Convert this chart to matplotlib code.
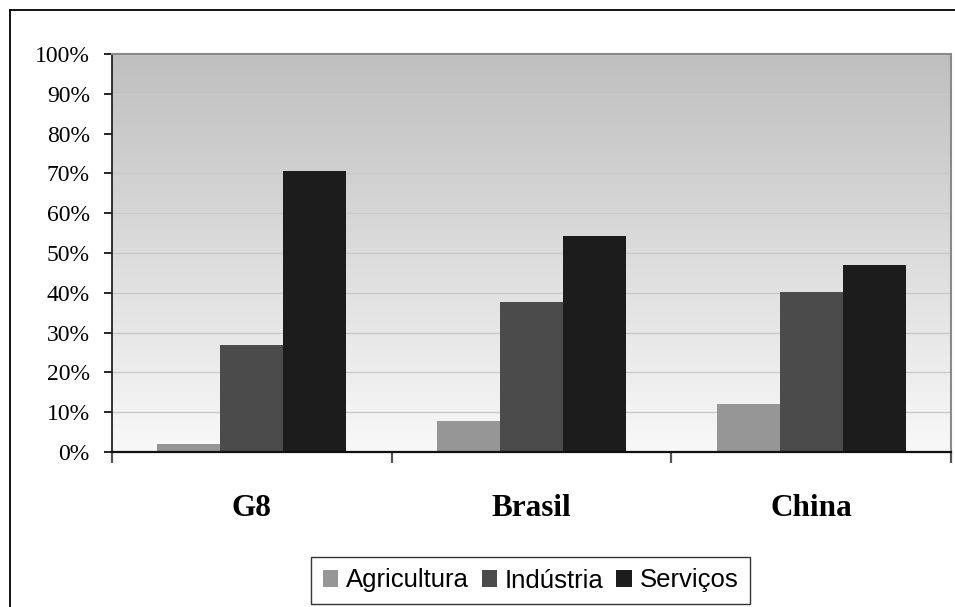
import numpy as np
import matplotlib
matplotlib.use("Agg")
import matplotlib.pyplot as plt
from matplotlib.lines import Line2D
from matplotlib.ticker import FixedLocator, PercentFormatter

# Economic structure by sector (share of GDP)
categories = ["G8", "Brasil", "China"]
series_names = ["Agricultura", "Indústria", "Serviços"]
agricultura = [2.0, 7.8, 12.1]
industria = [27.0, 37.8, 40.3]
servicos = [70.5, 54.2, 47.1]
series_values = [agricultura, industria, servicos]
series_colors = ["#969696", "#4b4b4b", "#1c1c1c"]
y_ticks = list(range(0, 101, 10))

W, H = 955, 607
fig = plt.figure(figsize=(W / 100, H / 100), dpi=100)
fig.patch.set_facecolor("white")

ax = fig.add_axes([112 / W, 1 - 452 / H, (951 - 112) / W, (452 - 54) / H])

# vertical gray gradient behind the plot area
grad = np.linspace(0, 1, 256).reshape(-1, 1)
top_c = np.array([0.75, 0.75, 0.75])
bot_c = np.array([0.975, 0.975, 0.975])
img = top_c + (bot_c - top_c) * grad
ax.imshow(img.reshape(256, 1, 3), extent=[0, 1, 0, 1], transform=ax.transAxes,
          aspect="auto", zorder=0, interpolation="bicubic")

x = np.arange(len(categories))
bw = 0.225
for i, (name, vals, col) in enumerate(zip(series_names, series_values, series_colors)):
    ax.bar(x + (i - 1) * bw, vals, width=bw, color=col, label=name, zorder=2, linewidth=0)

ax.set_xlim(-0.5, len(categories) - 0.5)
ax.set_ylim(0, 100)

ax.yaxis.set_major_locator(FixedLocator(y_ticks))
ax.yaxis.set_major_formatter(PercentFormatter(decimals=0))
ax.grid(axis="y", color="#cacaca", linewidth=1.0, zorder=1)
ax.set_axisbelow(True)

ax.set_xticks(x)
ax.set_xticklabels(categories, fontfamily="Liberation Serif", fontweight="bold", fontsize=22.5)
ax.set_xticks(np.arange(-0.5, len(categories)), minor=True)
ax.tick_params(axis="x", which="major", length=0, pad=30)
ax.tick_params(axis="x", which="minor", length=8, width=1.6, color="#555555", direction="out")
ax.tick_params(axis="y", length=6, width=1.2, direction="out", pad=10, labelsize=17)
for lbl in ax.get_yticklabels():
    lbl.set_fontfamily("Liberation Serif")

ax.spines["left"].set_color("#222222")
ax.spines["left"].set_linewidth(1.3)
ax.spines["bottom"].set_color("#111111")
ax.spines["bottom"].set_linewidth(1.6)
ax.spines["top"].set_color("#8a8a8a")
ax.spines["top"].set_linewidth(1.5)
ax.spines["right"].set_color("#8a8a8a")
ax.spines["right"].set_linewidth(1.5)

# chart frame (top and left edges)
fig.add_artist(Line2D([10 / W, 1.0], [1 - 10 / H, 1 - 10 / H], transform=fig.transFigure,
                      color="black", linewidth=1.3))
fig.add_artist(Line2D([10 / W, 10 / W], [0.0, 1 - 10 / H], transform=fig.transFigure,
                      color="black", linewidth=1.3))

handles, labels = ax.get_legend_handles_labels()
leg = fig.legend(handles, labels, loc="center", bbox_to_anchor=(530.5 / W, 1 - 580.5 / H),
                 ncol=3, frameon=True, fancybox=False, edgecolor="black",
                 prop={"family": "Liberation Sans", "size": 18.5},
                 handlelength=0.6, handleheight=0.6, handletextpad=0.3,
                 columnspacing=0.5, borderpad=0.45, borderaxespad=0)
leg.get_frame().set_linewidth(1.0)

fig.savefig("out.png", dpi=100)
